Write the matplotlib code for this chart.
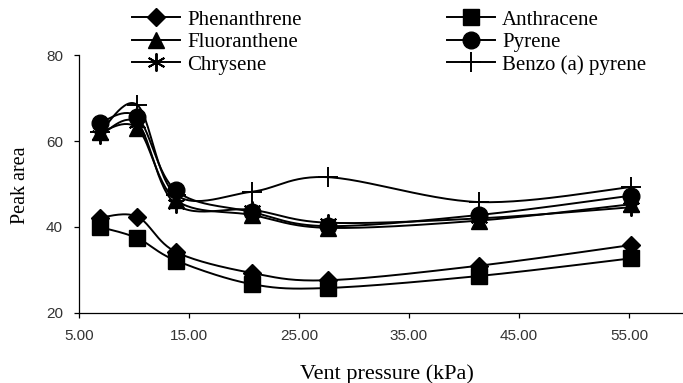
import numpy as np
import matplotlib
matplotlib.use("Agg")
import matplotlib.pyplot as plt

# vent pressure (kPa)
pressure = [6.9, 10.3, 13.8, 20.7, 27.6, 41.4, 55.2]

phenanthrene = [42.2, 42.4, 34.2, 29.3, 27.6, 31.0, 35.8]
anthracene = [40.0, 37.4, 32.2, 26.7, 25.8, 28.6, 32.7]
fluoranthene = [62.0, 63.0, 46.3, 42.8, 39.8, 41.5, 45.3]
pyrene = [64.3, 65.6, 48.5, 43.5, 40.2, 42.8, 47.3]
chrysene = [61.3, 64.2, 45.3, 44.0, 41.0, 42.0, 44.6]
benzo_a_pyrene = [62.0, 68.4, 47.5, 48.2, 51.6, 45.8, 49.3]

series = [
    ("Phenanthrene", phenanthrene, "D", 9),
    ("Anthracene", anthracene, "s", 11.5),
    ("Fluoranthene", fluoranthene, "^", 12),
    ("Pyrene", pyrene, "o", 12),
    ("Chrysene", chrysene, (6, 2, 0), 13),
    ("Benzo (a) pyrene", benzo_a_pyrene, "+", 14),
]


def smooth(x, y, n=30):
    # excel-style smoothed line (bezier with catmull-rom control points)
    p = np.column_stack([x, y]).astype(float)
    pts = np.vstack([p[0], p, p[-1]])
    t = np.linspace(0, 1, n)[:, None]
    out = []
    for i in range(1, len(pts) - 2):
        p0, p1 = pts[i], pts[i + 1]
        c1 = p0 + (pts[i + 1] - pts[i - 1]) / 6
        c2 = p1 - (pts[i + 2] - pts[i]) / 6
        seg = ((1 - t) ** 3) * p0 + 3 * ((1 - t) ** 2) * t * c1 + 3 * (1 - t) * t ** 2 * c2 + t ** 3 * p1
        out.append(seg)
    out = np.vstack(out)
    return out[:, 0], out[:, 1]


fig = plt.figure(figsize=(6.83, 3.83), dpi=100)
ax = fig.add_axes([0.1157, 0.183, 0.884, 0.673])

handles = []
for label, vals, mk, ms in series:
    sx, sy = smooth(pressure, vals)
    mw = 1.4 if mk in ("+", (6, 2, 0)) else 1
    ax.plot(sx, sy, color="black", lw=1.4, zorder=2)
    ax.plot(pressure, vals, linestyle="none", marker=mk, ms=ms, color="black",
            mew=mw, zorder=3)
    h, = ax.plot([], [], color="black", lw=1.4, marker=mk, ms=ms, mew=mw, label=label)
    handles.append(h)

ax.set_xlim(5, 59.9)
ax.set_ylim(20, 80)
ax.set_xticks([5, 15, 25, 35, 45, 55])
ax.set_xticklabels(["5.00", "15.00", "25.00", "35.00", "45.00", "55.00"])
ax.set_yticks([20, 40, 60, 80])
for s in ["top", "right"]:
    ax.spines[s].set_visible(False)
for s in ["left", "bottom"]:
    ax.spines[s].set_linewidth(0.9)
ax.tick_params(direction="out", length=3.5, width=0.9, labelsize=11, pad=8)
for lbl in ax.get_xticklabels() + ax.get_yticklabels():
    lbl.set_fontfamily("Liberation Sans")
    lbl.set_color("#333333")

ax.set_xlabel("Vent pressure (kPa)", fontfamily="Liberation Serif", fontsize=16)
ax.set_ylabel("Peak area", fontfamily="Liberation Serif", fontsize=14.5)
ax.xaxis.set_label_coords(0.51, -0.2)
ax.yaxis.set_label_coords(-0.081, 0.496)

order = [0, 2, 4, 1, 3, 5]
fig.legend([handles[i] for i in order], [series[i][0] for i in order],
           loc="upper left", bbox_to_anchor=(0.166, 1.023), ncol=2, frameon=False,
           prop={"family": "Liberation Serif", "size": 15}, handlelength=2.3,
           handletextpad=0.33, labelspacing=0.14, columnspacing=7.0)

plt.savefig("out.png", dpi=100)
